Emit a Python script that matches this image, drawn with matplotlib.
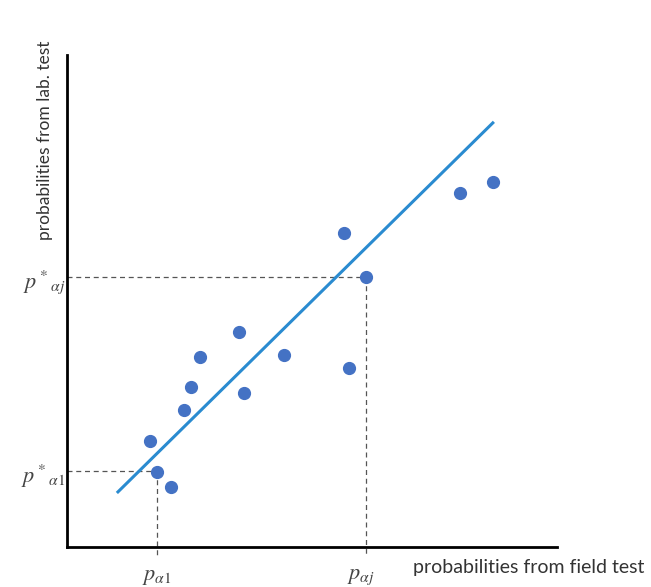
import matplotlib
matplotlib.use("Agg")
import matplotlib.pyplot as plt

plt.rcParams['font.family'] = ['Lato', 'DejaVu Sans']
plt.rcParams['mathtext.fontset'] = 'stix'

# 資料
field_x = [0.169, 0.184, 0.212, 0.239, 0.253, 0.271, 0.351, 0.361, 0.443,
           0.565, 0.576, 0.610, 0.802, 0.869]
lab_y = [0.215, 0.152, 0.122, 0.278, 0.325, 0.386, 0.437, 0.313, 0.390,
         0.638, 0.364, 0.549, 0.720, 0.742]
fit_x = [0.104, 0.869]
fit_y = [0.112, 0.862]
p_a1 = (0.184, 0.154)
p_aj = (0.610, 0.549)

fig = plt.figure(figsize=(6.51, 5.87), dpi=100)
ax = fig.add_axes([67/651, 40/587, 490/651, 492/587])
ax.set_xlim(0, 1)
ax.set_ylim(0, 1)

for s in ['top', 'right']:
    ax.spines[s].set_visible(False)
for s in ['left', 'bottom']:
    ax.spines[s].set_linewidth(2)
    ax.spines[s].set_color('black')
ax.set_xticks([])
ax.set_yticks([])

# 擬合線
ax.plot(fit_x, fit_y, color='#2a8bd0', lw=2.2, zorder=2)

# 虛線
for px, py in [p_a1, p_aj]:
    ax.plot([0, px], [py, py], ls=(0, (4, 3)), color='#555555', lw=0.9,
            clip_on=False, zorder=1)
    ax.plot([px, px], [py, -0.02], ls=(0, (4, 3)), color='#555555', lw=0.9,
            clip_on=False, zorder=1)

# 散點
ax.plot(field_x, lab_y, 'o', color='#4472c4', ms=8.5, zorder=3)

# 標籤
ax.text(-0.003, p_aj[1] - 0.01, r'$p^*{}_{\alpha j}$', ha='right', va='center',
        fontsize=16, color='#444444')
ax.text(-0.003, p_a1[1] - 0.01, r'$p^*{}_{\alpha 1}$', ha='right', va='center',
        fontsize=16, color='#444444')
ax.text(p_a1[0], -0.06, r'$p_{\alpha 1}$', ha='center', va='center',
        fontsize=16, color='#444444')
ax.text(p_aj[0] - 0.01, -0.06, r'$p_{\alpha j}$', ha='center', va='center',
        fontsize=16, color='#444444')

fig.text(413/651, 1 - 567/587, 'probabilities from field test', ha='left',
         va='center', fontsize=14, color='#333333')
fig.text(45/651, 1 - 140/587, 'probabilities from lab. test', ha='center',
         va='center', rotation=90, fontsize=12.5, color='#333333')

fig.savefig('out.png', dpi=100)
